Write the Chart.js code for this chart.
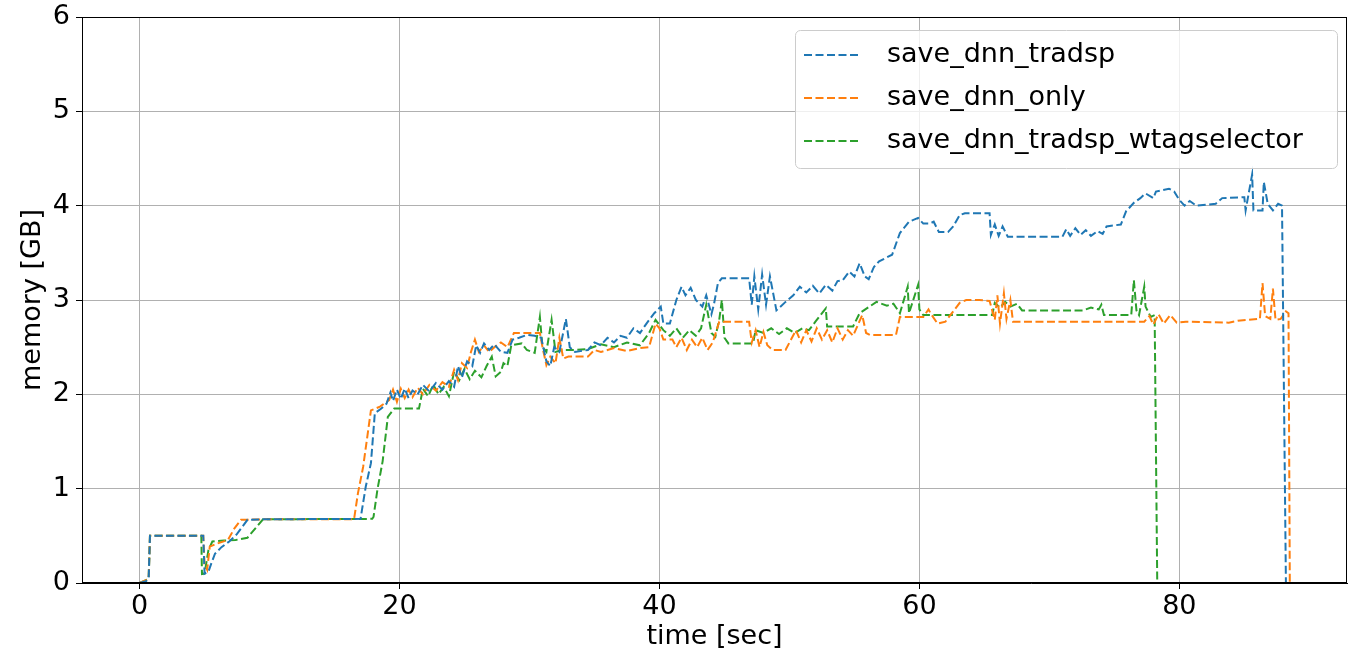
<!DOCTYPE html>
<html>
<head>
<meta charset="utf-8">
<title>memory usage</title>
<script src="https://cdn.jsdelivr.net/npm/chart.js@4.4.0/dist/chart.umd.min.js"></script>
<style>
  html, body { margin: 0; padding: 0; background: #ffffff; }
  #wrap { width: 1364px; height: 657px; }
</style>
</head>
<body>
<div id="wrap"><canvas id="chart-memory" width="1364" height="657"></canvas></div>
<script>
// Series names (legend order)
const seriesLabels = ['save_dnn_tradsp', 'save_dnn_only', 'save_dnn_tradsp_wtagselector'];
const seriesColors = ['#1f77b4', '#ff7f0e', '#2ca02c'];

// Axis ticks
const xTicks = [0, 20, 40, 60, 80];
const yTicks = [0, 1, 2, 3, 4, 5, 6];

// save_dnn_tradsp : time [sec] / memory [GB]
const tradspTime = [
  0, 0.5, 0.7, 0.8, 4.9, 5.0, 5.3, 5.5, 5.8, 6.3, 6.9, 7.5, 8.3, 9.5,
  17.0, 17.4, 17.8, 18.1, 18.6, 19.0,
  19.3, 19.5, 19.8, 20.1, 20.4, 20.7, 21.0, 21.4, 21.8, 22.3, 22.8, 23.3, 23.8,
  24.2, 24.5, 24.8, 25.2, 25.6, 25.9, 26.2, 26.5, 26.9, 27.3, 27.8, 28.3, 28.7, 29.2, 29.8,
  30.4, 30.9, 31.3, 31.6, 31.9, 32.3, 32.8, 33.1, 33.5,
  34.5, 35.0, 35.5, 36.0, 36.5, 37.0, 37.5, 38.0, 38.5, 39.0, 39.6,
  40.1, 40.3, 40.8, 41.3, 41.7, 42.0, 42.4, 42.8, 43.3, 43.6, 44.0, 44.2, 44.5, 44.8,
  46.9, 47.1, 47.3, 47.6, 47.9, 48.2, 48.5, 49.0,
  49.7, 50.3, 50.8, 51.3, 51.8, 52.3, 52.8, 53.3, 53.7, 54.1, 54.6, 55.0, 55.4, 55.8, 56.1, 56.5, 56.9,
  57.9, 58.5, 59.2, 59.9, 60.3, 60.8, 61.1, 61.5, 62.2, 62.6, 63.1, 63.5,
  65.4, 65.5, 65.8, 66.1, 66.4, 66.8, 67.1,
  71.0, 71.3, 71.6, 72.0, 72.4, 72.8, 73.2, 73.7, 74.1, 74.4,
  75.5, 75.9, 76.5, 77.0, 77.4, 78.0, 78.2, 79.2, 79.6, 80.0, 80.4, 80.8, 81.3, 82.8,
  83.3, 85.0, 85.1, 85.6, 85.7, 86.4, 86.5, 86.8, 87.2, 87.6, 87.9, 88.2
];
const tradspMem = [
  0, 0.02, 0.05, 0.5, 0.5, 0.1, 0.12, 0.2, 0.31, 0.38, 0.44, 0.52, 0.67, 0.675,
  0.68, 1.02, 1.27, 1.8, 1.85, 1.9,
  2.02, 1.93, 2.05, 1.95, 2.06, 1.96, 2.04, 2.0, 2.1, 2.03, 2.12, 2.05, 2.14,
  2.08, 2.3, 2.18, 2.35, 2.3, 2.52, 2.44, 2.54, 2.47, 2.53, 2.45, 2.44, 2.58, 2.6, 2.63,
  2.62, 2.6, 2.35, 2.3, 2.5, 2.45, 2.8, 2.5, 2.45,
  2.47, 2.55, 2.52, 2.6, 2.55, 2.62, 2.6, 2.7, 2.65, 2.75, 2.86,
  2.93, 2.75, 2.75, 3.0, 3.14, 3.05, 3.13, 3.0, 2.93, 3.05, 2.85, 2.96, 3.18, 3.23,
  3.23, 2.95, 3.25, 2.9, 3.27, 2.95, 3.25, 2.89,
  2.98, 3.05, 3.14, 3.08, 3.15, 3.07, 3.16, 3.1, 3.2, 3.21, 3.3, 3.25, 3.39, 3.25, 3.22, 3.35, 3.41,
  3.48, 3.71, 3.83, 3.87, 3.81, 3.81, 3.83, 3.72, 3.72, 3.78, 3.9, 3.92,
  3.92, 3.69, 3.8, 3.68, 3.78, 3.67, 3.67,
  3.67, 3.75, 3.68, 3.76, 3.69, 3.74, 3.68, 3.73, 3.7, 3.78,
  3.8, 3.94, 4.03, 4.08, 4.13, 4.08, 4.15, 4.18, 4.15, 4.06, 4.0, 4.05, 4.0, 4.02,
  4.08, 4.09, 3.95, 4.33, 3.95, 3.95, 4.25, 4.02, 3.95, 4.02, 4.0, 0
];

// save_dnn_only
const onlyTime = [
  0, 0.5, 0.7, 0.8, 4.9, 5.0, 5.2, 5.4, 6.0, 6.8, 7.3, 7.8, 9.5, 16.5,
  16.8, 17.2, 17.8, 18.5, 19.2, 19.5, 19.8, 20.1, 20.4, 20.7, 21.0, 21.4, 21.8,
  22.3, 22.8, 23.3, 23.8, 24.2, 24.5, 24.8, 25.2, 25.5, 25.8, 26.1, 26.5, 26.9, 27.3, 27.8, 28.3, 28.8, 30.8,
  31.0, 31.3, 31.6, 32.0, 32.3, 32.6, 33.0, 34.5, 35.0, 35.5, 36.5, 37.5, 38.5, 39.2, 39.7, 40.0, 40.3,
  41.0, 41.3, 41.7, 42.1, 42.5, 42.9, 43.3, 43.7, 44.1, 44.6, 46.9,
  47.1, 47.4, 47.7, 48.0, 48.3, 48.7, 49.7, 50.5, 50.9, 51.3, 51.7, 52.1, 52.5, 52.9, 53.3, 53.7, 54.1, 54.5, 54.9,
  55.6, 55.9, 56.2, 58.2, 58.5, 60.3, 60.7, 60.9, 61.4, 62.0, 63.1, 63.6, 64.6, 65.4,
  65.8, 66.0, 66.2, 66.5, 66.7, 67.0, 67.2, 77.3, 77.7, 78.0, 78.4, 78.8, 79.3, 79.8, 80.5, 83.8, 84.5,
  86.2, 86.4, 86.6, 87.0, 87.2, 87.4, 87.8, 88.2, 88.4, 88.5
];
const onlyMem = [
  0, 0.03, 0.05, 0.5, 0.5, 0.2, 0.14, 0.385, 0.42, 0.456, 0.58, 0.67, 0.675, 0.675,
  0.95, 1.23, 1.83, 1.87, 1.94, 2.05, 1.92, 2.06, 1.96, 2.05, 1.97, 2.07, 2.0,
  2.1, 2.04, 2.13, 2.08, 2.26, 2.15, 2.33, 2.28, 2.45, 2.58, 2.45, 2.52, 2.45, 2.5, 2.55, 2.5, 2.65, 2.65,
  2.5, 2.31, 2.4, 2.33, 2.6, 2.38, 2.4, 2.4, 2.47, 2.45, 2.49, 2.46, 2.49, 2.5, 2.75, 2.7, 2.58,
  2.58, 2.5, 2.6, 2.47, 2.58, 2.5, 2.6, 2.47, 2.55, 2.77, 2.77,
  2.55, 2.68, 2.5, 2.66, 2.52, 2.47, 2.47, 2.68, 2.55, 2.68, 2.56, 2.7, 2.58, 2.68, 2.55, 2.7, 2.58, 2.68, 2.62,
  2.84, 2.65, 2.63, 2.63, 2.82, 2.82, 2.9, 2.85, 2.75, 2.77, 2.97, 3.0, 3.0, 2.99,
  2.79, 3.05, 2.75, 3.07, 2.8, 3.0, 2.77, 2.77, 2.83, 2.74, 2.85, 2.75, 2.84, 2.76, 2.77, 2.76, 2.78,
  2.8, 3.18, 2.83, 2.8, 3.12, 2.79, 2.8, 2.88, 2.86, 0
];

// save_dnn_tradsp_wtagselector
const wtagTime = [
  0, 0.5, 0.7, 0.8, 4.75, 4.8, 5.0, 5.3, 5.6, 6.5, 7.4, 8.3, 9.5, 17.9,
  18.0, 18.3, 18.7, 19.1, 19.6, 21.5, 21.8, 22.2, 22.6, 23.0, 23.4, 23.8,
  24.2, 24.6, 25.0, 25.4, 25.8, 26.3, 26.7, 27.1, 27.4, 27.8, 28.0, 28.3, 28.6, 29.4, 29.8, 30.4,
  30.8, 31.0, 31.3, 31.7, 32.0, 32.5, 33.5, 34.5, 35.5, 36.5, 37.5, 38.5, 39.2, 39.7, 40.3,
  40.8, 41.3, 41.8, 42.3, 42.8, 43.2, 43.6, 44.0, 44.3, 44.6, 44.8, 45.0, 45.3, 47.2,
  47.4, 48.0, 48.6, 49.2, 49.8, 50.4, 51.0, 51.5, 52.0, 52.8, 52.9, 54.9, 55.4, 56.7, 57.5, 58.0, 58.5,
  59.1, 59.2, 59.9, 60.0, 60.3, 65.6, 65.8, 66.2, 66.6, 67.0, 67.5, 67.9, 72.6,
  73.2, 73.8, 74.0, 74.2, 76.3, 76.5, 76.7, 76.9, 77.3, 77.4, 77.8, 78.1, 78.3
];
const wtagMem = [
  0, 0.03, 0.05, 0.5, 0.5, 0.095, 0.1, 0.35, 0.44, 0.45, 0.456, 0.48, 0.675, 0.68,
  0.7, 0.99, 1.29, 1.76, 1.85, 1.85, 2.06, 1.98, 2.1, 2.0, 2.08, 1.98,
  2.24, 2.15, 2.27, 2.16, 2.25, 2.18, 2.3, 2.4, 2.19, 2.24, 2.33, 2.3, 2.52, 2.54, 2.47, 2.44,
  2.82, 2.5, 2.45, 2.79, 2.45, 2.47, 2.47, 2.48, 2.53, 2.5, 2.55, 2.52, 2.65, 2.79, 2.68,
  2.62, 2.7, 2.6, 2.68, 2.62, 2.7, 2.95, 2.65, 2.61, 2.79, 3.0, 2.6, 2.54, 2.54,
  2.68, 2.65, 2.7, 2.64, 2.7, 2.65, 2.7, 2.68, 2.77, 2.91, 2.72, 2.72, 2.86, 2.98, 2.94, 2.96, 2.86,
  3.14, 2.86, 3.16, 2.9, 2.84, 2.84, 2.97, 2.92, 2.98, 2.93, 2.96, 2.89, 2.89,
  2.92, 2.9, 2.95, 2.84, 2.84, 3.21, 2.89, 2.84, 3.14, 2.93, 2.82, 2.84, 0
];

const seriesTime = [tradspTime, onlyTime, wtagTime];
const seriesMem = [tradspMem, onlyMem, wtagMem];

const FONT = 'DejaVu Sans';
const FONT_SIZE = 27;

function toPoints(times, mems) {
  return times.map((t, i) => ({ x: t, y: mems[i] }));
}

// top and right spines (matplotlib draws a full box)
const framePlugin = {
  id: 'frame',
  afterDraw(chart) {
    const { ctx, chartArea } = chart;
    ctx.save();
    ctx.strokeStyle = '#000000';
    ctx.lineWidth = 1;
    ctx.strokeRect(chartArea.left + 0.5, chartArea.top + 0.5,
      chartArea.right - chartArea.left - 1, chartArea.bottom - chartArea.top - 1);
    ctx.restore();
  }
};

// legend box drawn inside the plot, upper right
const insideLegendPlugin = {
  id: 'insideLegend',
  afterDraw(chart) {
    const { ctx } = chart;
    const box = { x: 795, y: 30, w: 542, h: 138 };
    ctx.save();
    ctx.beginPath();
    ctx.roundRect(box.x + 0.5, box.y + 0.5, box.w, box.h, 5);
    ctx.fillStyle = 'rgba(255,255,255,0.8)';
    ctx.fill();
    ctx.strokeStyle = '#cccccc';
    ctx.lineWidth = 1;
    ctx.stroke();

    ctx.font = FONT_SIZE + 'px "' + FONT + '"';
    ctx.textBaseline = 'middle';
    ctx.fillStyle = '#000000';
    chart.data.datasets.forEach((ds, i) => {
      const y = 55 + i * 43;
      ctx.beginPath();
      ctx.setLineDash(ds.borderDash);
      ctx.strokeStyle = ds.borderColor;
      ctx.lineWidth = ds.borderWidth;
      ctx.moveTo(804, y);
      ctx.lineTo(860, y);
      ctx.stroke();
      ctx.setLineDash([]);
      ctx.fillText(ds.label, 887, y);
    });
    ctx.restore();
  }
};

const ctx = document.getElementById('chart-memory');

new Chart(ctx, {
  type: 'line',
  data: {
    datasets: seriesLabels.map((label, i) => ({
      label: label,
      data: toPoints(seriesTime[i], seriesMem[i]),
      borderColor: seriesColors[i],
      backgroundColor: seriesColors[i],
      borderWidth: 2,
      borderDash: [8, 3.5],
      pointRadius: 0,
      tension: 0,
      fill: false
    }))
  },
  options: {
    responsive: false,
    animation: false,
    devicePixelRatio: 1,
    layout: {
      padding: { top: 17, right: 17, left: 0, bottom: 0 }
    },
    plugins: {
      legend: { display: false },
      tooltip: { enabled: false }
    },
    scales: {
      x: {
        type: 'linear',
        min: -4.43,
        max: 92.9,
        afterBuildTicks: (scale) => {
          scale.ticks = xTicks.map(v => ({ value: v }));
        },
        afterFit: (scale) => { scale.height = 74; },
        ticks: {
          color: '#000000',
          font: { family: FONT, size: FONT_SIZE },
          padding: 2,
          maxRotation: 0
        },
        grid: {
          color: '#b0b0b0',
          lineWidth: 1,
          tickColor: '#000000',
          tickLength: 6
        },
        border: { color: '#000000', width: 1 },
        title: {
          display: true,
          text: 'time [sec]',
          color: '#000000',
          font: { family: FONT, size: FONT_SIZE },
          padding: { top: 0, bottom: 4 }
        }
      },
      y: {
        type: 'linear',
        min: 0,
        max: 6,
        afterBuildTicks: (scale) => {
          scale.ticks = yTicks.map(v => ({ value: v }));
        },
        afterFit: (scale) => {
          scale.width = 82;
          // let the top label overflow into the padding, like matplotlib
          scale.paddingTop = 0;
          scale.paddingBottom = 0;
        },
        ticks: {
          color: '#000000',
          font: { family: FONT, size: FONT_SIZE },
          padding: 6
        },
        grid: {
          color: '#b0b0b0',
          lineWidth: 1,
          tickColor: '#000000',
          tickLength: 6
        },
        border: { color: '#000000', width: 1 },
        title: {
          display: true,
          text: 'memory [GB]',
          color: '#000000',
          font: { family: FONT, size: FONT_SIZE },
          padding: { top: 17, bottom: 0 }
        }
      }
    }
  },
  plugins: [framePlugin, insideLegendPlugin]
});
</script>
</body>
</html>
